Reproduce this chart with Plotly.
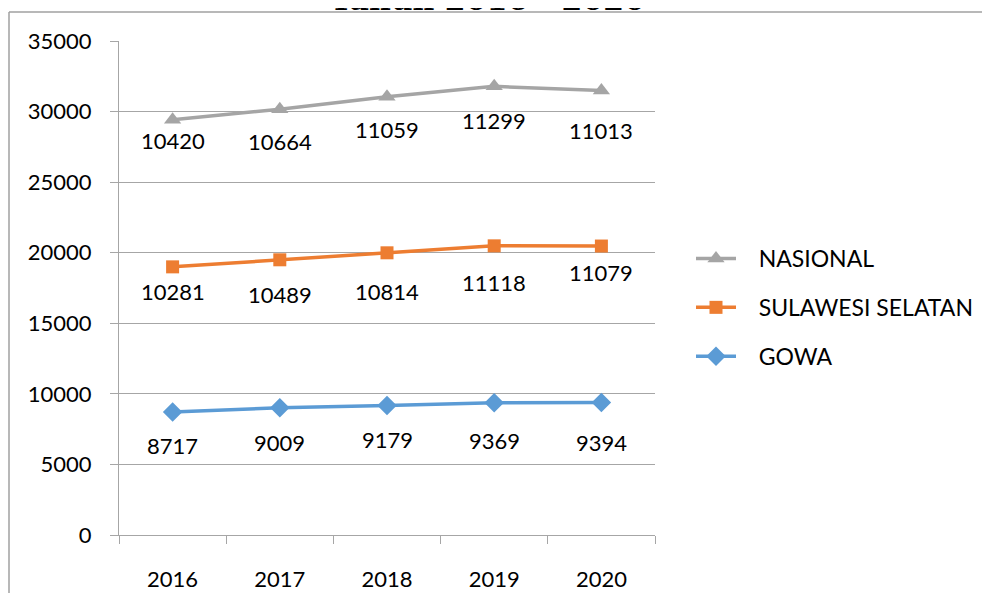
import numpy as np
import plotly.graph_objects as go

years = ["2016", "2017", "2018", "2019", "2020"]
gowa = [8717, 9009, 9179, 9369, 9394]
sulsel = [10281, 10489, 10814, 11118, 11079]
nasional = [10420, 10664, 11059, 11299, 11013]

# page is 990x593 but the html body has an 8px margin, so the figure is
# shifted; everything below is given in page pixels and converted.
OFF = 8
W, H = 990 - OFF, 593 - OFF
L, R, T, B = 119 - OFF, 655 - OFF, 41 - OFF, 535 - OFF


def px_x(x):
    return (x - OFF - L) / (R - L)


def px_y(y):
    return (B - (y - OFF)) / (B - T)


FONT = "Lato, Carlito, Calibri, sans-serif"
GRID = "#A6A6A6"
PAD = "\u00a0\u00a0\u00a0"

series = [
    ("GOWA", gowa, "#5B9BD5", "diamond", 15, [34, 35, 34, 38, 40], 3),
    ("SULAWESI SELATAN", sulsel, "#ED7D31", "square", 13, [25, 35, 39, 37, 26], 2),
    ("NASIONAL", nasional, "#A5A5A5", "triangle-up", 15, [21, 32, 33, 34, 40], 1),
]

fig = go.Figure()
base = np.zeros(len(years))
annotations = []
for name, vals, color, sym, size, offs, rank in series:
    stacked = base + np.array(vals)
    fig.add_trace(go.Scatter(
        x=years, y=stacked, name=PAD + name, mode="lines+markers",
        legendgroup=name, legendrank=rank,
        line=dict(color=color, width=3.5),
        marker=dict(symbol=sym, size=size, color=color),
        hovertemplate=f"{name}<br>%{{x}}: %{{text}}<extra></extra>",
        text=[str(v) for v in vals],
    ))
    for i, (v, sv, off) in enumerate(zip(vals, stacked, offs)):
        annotations.append(dict(
            x=i, y=sv, xref="x", yref="y", text=str(v), showarrow=False,
            yshift=-off, font=dict(family=FONT, size=22, color="#000000"),
        ))
    base = stacked

# cut-off chart title at the top edge
annotations.append(dict(
    x=px_x(487), y=px_y(19), xref="paper", yref="paper",
    xanchor="center", yanchor="bottom", showarrow=False,
    text="<b>Tahun 2016 - 2020</b>",
    font=dict(family="DejaVu Serif, serif", size=30, color="#000000"),
))

fig.update_layout(
    width=W, height=H,
    margin=dict(l=L, r=W - R, t=T, b=H - B, pad=0),
    paper_bgcolor="white", plot_bgcolor="white",
    font=dict(family=FONT, size=22, color="#000000"),
    showlegend=True,
    legend=dict(
        x=px_x(691), y=px_y(237), xanchor="left", yanchor="top",
        traceorder="grouped", tracegroupgap=16,
        itemwidth=40, font=dict(family=FONT, size=23),
        bgcolor="rgba(0,0,0,0)",
    ),
    annotations=annotations,
    shapes=[
        dict(type="line", xref="paper", yref="paper",
             x0=px_x(9), x1=px_x(1000), y0=px_y(12), y1=px_y(12),
             line=dict(color="#A0A0A0", width=1.5)),
        dict(type="line", xref="paper", yref="paper",
             x0=px_x(9), x1=px_x(9), y0=px_y(12), y1=px_y(600),
             line=dict(color="#A0A0A0", width=1.5)),
    ],
)
fig.update_xaxes(
    type="category", range=[-0.5, 4.5], automargin=False,
    showline=True, linecolor=GRID, linewidth=1,
    ticks="outside", tickson="boundaries", ticklen=8, tickcolor=GRID,
    ticklabelstandoff=25, showgrid=False, zeroline=False,
    tickfont=dict(family=FONT, size=22),
)
fig.update_yaxes(
    range=[0, 35000], dtick=5000, tick0=0, tickformat="d", automargin=False,
    showline=True, linecolor=GRID, linewidth=1,
    ticks="outside", ticklen=8, tickcolor=GRID,
    ticklabelstandoff=14,
    showgrid=True, gridcolor=GRID, gridwidth=1, zeroline=False,
    tickfont=dict(family=FONT, size=22),
)

fig.write_html("out.html")
